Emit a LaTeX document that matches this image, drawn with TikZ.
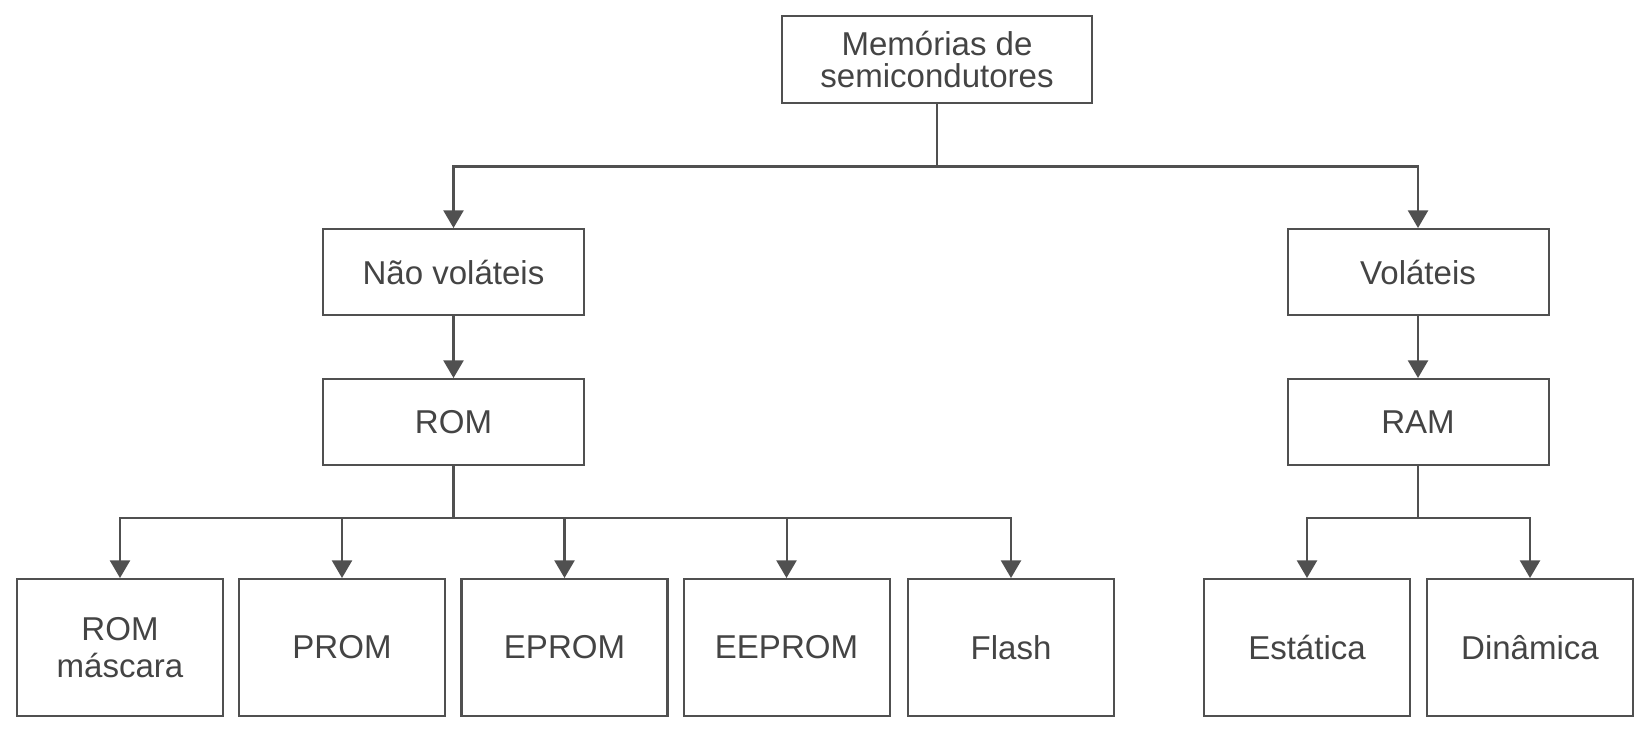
\documentclass[tikz,border=0pt]{standalone}
\usepackage{fontspec}
\setmainfont{Liberation Sans}
\usetikzlibrary{arrows.meta}
\definecolor{linegray}{HTML}{505050}
\definecolor{txtgray}{HTML}{444444}
\tikzset{
  box/.style = {draw=linegray, line width=1.15pt, fill=white, align=center,
    text=txtgray, font=\fontsize{18.8}{21}\selectfont, inner sep=0pt},
  midbox/.style = {box, minimum width=5.22cm, minimum height=1.72cm},
  leafbox/.style = {box, minimum width=4.12cm, minimum height=2.74cm},
  link/.style = {draw=linegray, line width=1.15pt,
    -{Triangle[length=10pt, width=11.4pt]}},
  plain/.style = {draw=linegray, line width=1.15pt}
}
\begin{document}
\begin{tikzpicture}
  \useasboundingbox (0,0) rectangle (33,-14.68);
  % top level
  \node[box, minimum width=6.2cm, minimum height=1.74cm,
        font=\fontsize{18.8}{18.2}\selectfont] (mem) at (18.74,-1.19)
        {Memórias de\\semicondutores};
  % second and third level
  \node[midbox] (naovol) at (9.07,-5.44) {Não voláteis};
  \node[midbox] (rom) at (9.07,-8.44) {ROM};
  \node[midbox] (vol) at (28.36,-5.44) {Voláteis};
  \node[midbox] (ram) at (28.36,-8.44) {RAM};
  % leaves
  \node[leafbox] (mascara) at (2.40,-12.95) {ROM\\máscara};
  \node[leafbox] (prom) at (6.84,-12.95) {PROM};
  \node[leafbox] (eprom) at (11.29,-12.95) {EPROM};
  \node[leafbox] (eeprom) at (15.73,-12.95) {EEPROM};
  \node[leafbox] (flash) at (20.22,-12.95) {Flash};
  \node[leafbox] (estatica) at (26.14,-12.95) {Estática};
  \node[leafbox] (dinamica) at (30.60,-12.95) {Dinâmica};
  % buses
  \coordinate (bus1) at (18.74,-3.33);
  \coordinate (bus2) at (9.07,-10.36);
  \coordinate (bus3) at (28.36,-10.36);
  % connectors
  \draw[plain] (mem) -- (bus1);
  \draw[link] (bus1) -| (naovol);
  \draw[link] (bus1) -| (vol);
  \draw[link] (naovol) -- (rom);
  \draw[link] (vol) -- (ram);
  \draw[plain] (rom) -- (bus2);
  \foreach \leaf in {mascara,prom,eprom,eeprom,flash}
    \draw[link] (bus2) -| (\leaf);
  \draw[plain] (ram) -- (bus3);
  \foreach \leaf in {estatica,dinamica}
    \draw[link] (bus3) -| (\leaf);
\end{tikzpicture}
\end{document}
